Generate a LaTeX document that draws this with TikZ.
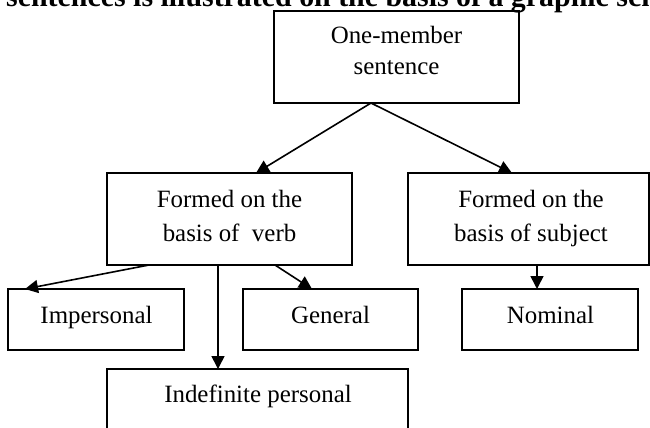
\documentclass[tikz,border=0pt]{standalone}
\usepackage{fontspec}
\setmainfont{Liberation Serif}
\usetikzlibrary{arrows.meta}
\tikzset{
  box/.style={draw, line width=2bp, inner sep=0pt, outer sep=0pt},
  lbl/.style={inner sep=0pt, anchor=base, font=\fontsize{25}{25}\selectfont},
  header/.style={inner sep=0pt, anchor=base west, font=\bfseries\fontsize{30}{30}\selectfont},
  link/.style={line width=1.6bp, -{Triangle[length=13bp,width=13bp]}}
}
\begin{document}
\begin{tikzpicture}[x=1bp,y=-1bp]
\useasboundingbox (0,0) rectangle (650,427);
\clip (0,0) rectangle (650,427);

% running text line above the scheme
\node[header] (head) at (6,6) {sentences is illustrated on the basis of a graphic scheme};

% root
\node[box, minimum width=245bp, minimum height=92bp] (root) at (396.5,57) {};
\node[lbl] (root1) at (396.5,43) {One-member};
\node[lbl] (root2) at (396.5,74) {sentence};

% second level
\node[box, minimum width=245bp, minimum height=92bp] (verb) at (229.5,219) {};
\node[lbl] (verb1) at (229.5,207) {Formed on the};
\node[lbl] (verb2) at (229.5,241) {basis of~ verb};

\node[box, minimum width=241bp, minimum height=92bp] (subj) at (528.5,219) {};
\node[lbl] (subj1) at (531,207) {Formed on the};
\node[lbl] (subj2) at (531,241) {basis of subject};

% third level
\node[box, minimum width=176bp, minimum height=61bp] (imp) at (96,319.5) {};
\node[lbl] (imp1) at (96.5,323) {Impersonal};

\node[box, minimum width=175bp, minimum height=61bp] (gen) at (330.5,319.5) {};
\node[lbl] (gen1) at (330.5,323) {General};

\node[box, minimum width=176bp, minimum height=61bp] (nom) at (550,319.5) {};
\node[lbl] (nom1) at (550.5,323) {Nominal};

\node[box, minimum width=301bp, minimum height=80bp] (indef) at (257.5,409) {};
\node[lbl] (indef1) at (258,402) {Indefinite personal};

% connectors
\draw[link] ([xshift=-25.5bp]root.south) -- ([xshift=26.5bp]verb.north);
\draw[link] ([xshift=-25.5bp]root.south) -- ([xshift=-16.5bp]subj.north);
\draw[link] ([xshift=-80.5bp]verb.south) -- ([xshift=-71bp]imp.north);
\draw[link] ([xshift=-11.5bp]verb.south) -- ([xshift=-39.5bp]indef.north);
\draw[link] ([xshift=45.5bp]verb.south) -- ([xshift=-18.5bp]gen.north);
\draw[link] ([xshift=8.5bp]subj.south) -- ([xshift=-13bp]nom.north);
\end{tikzpicture}
\end{document}
